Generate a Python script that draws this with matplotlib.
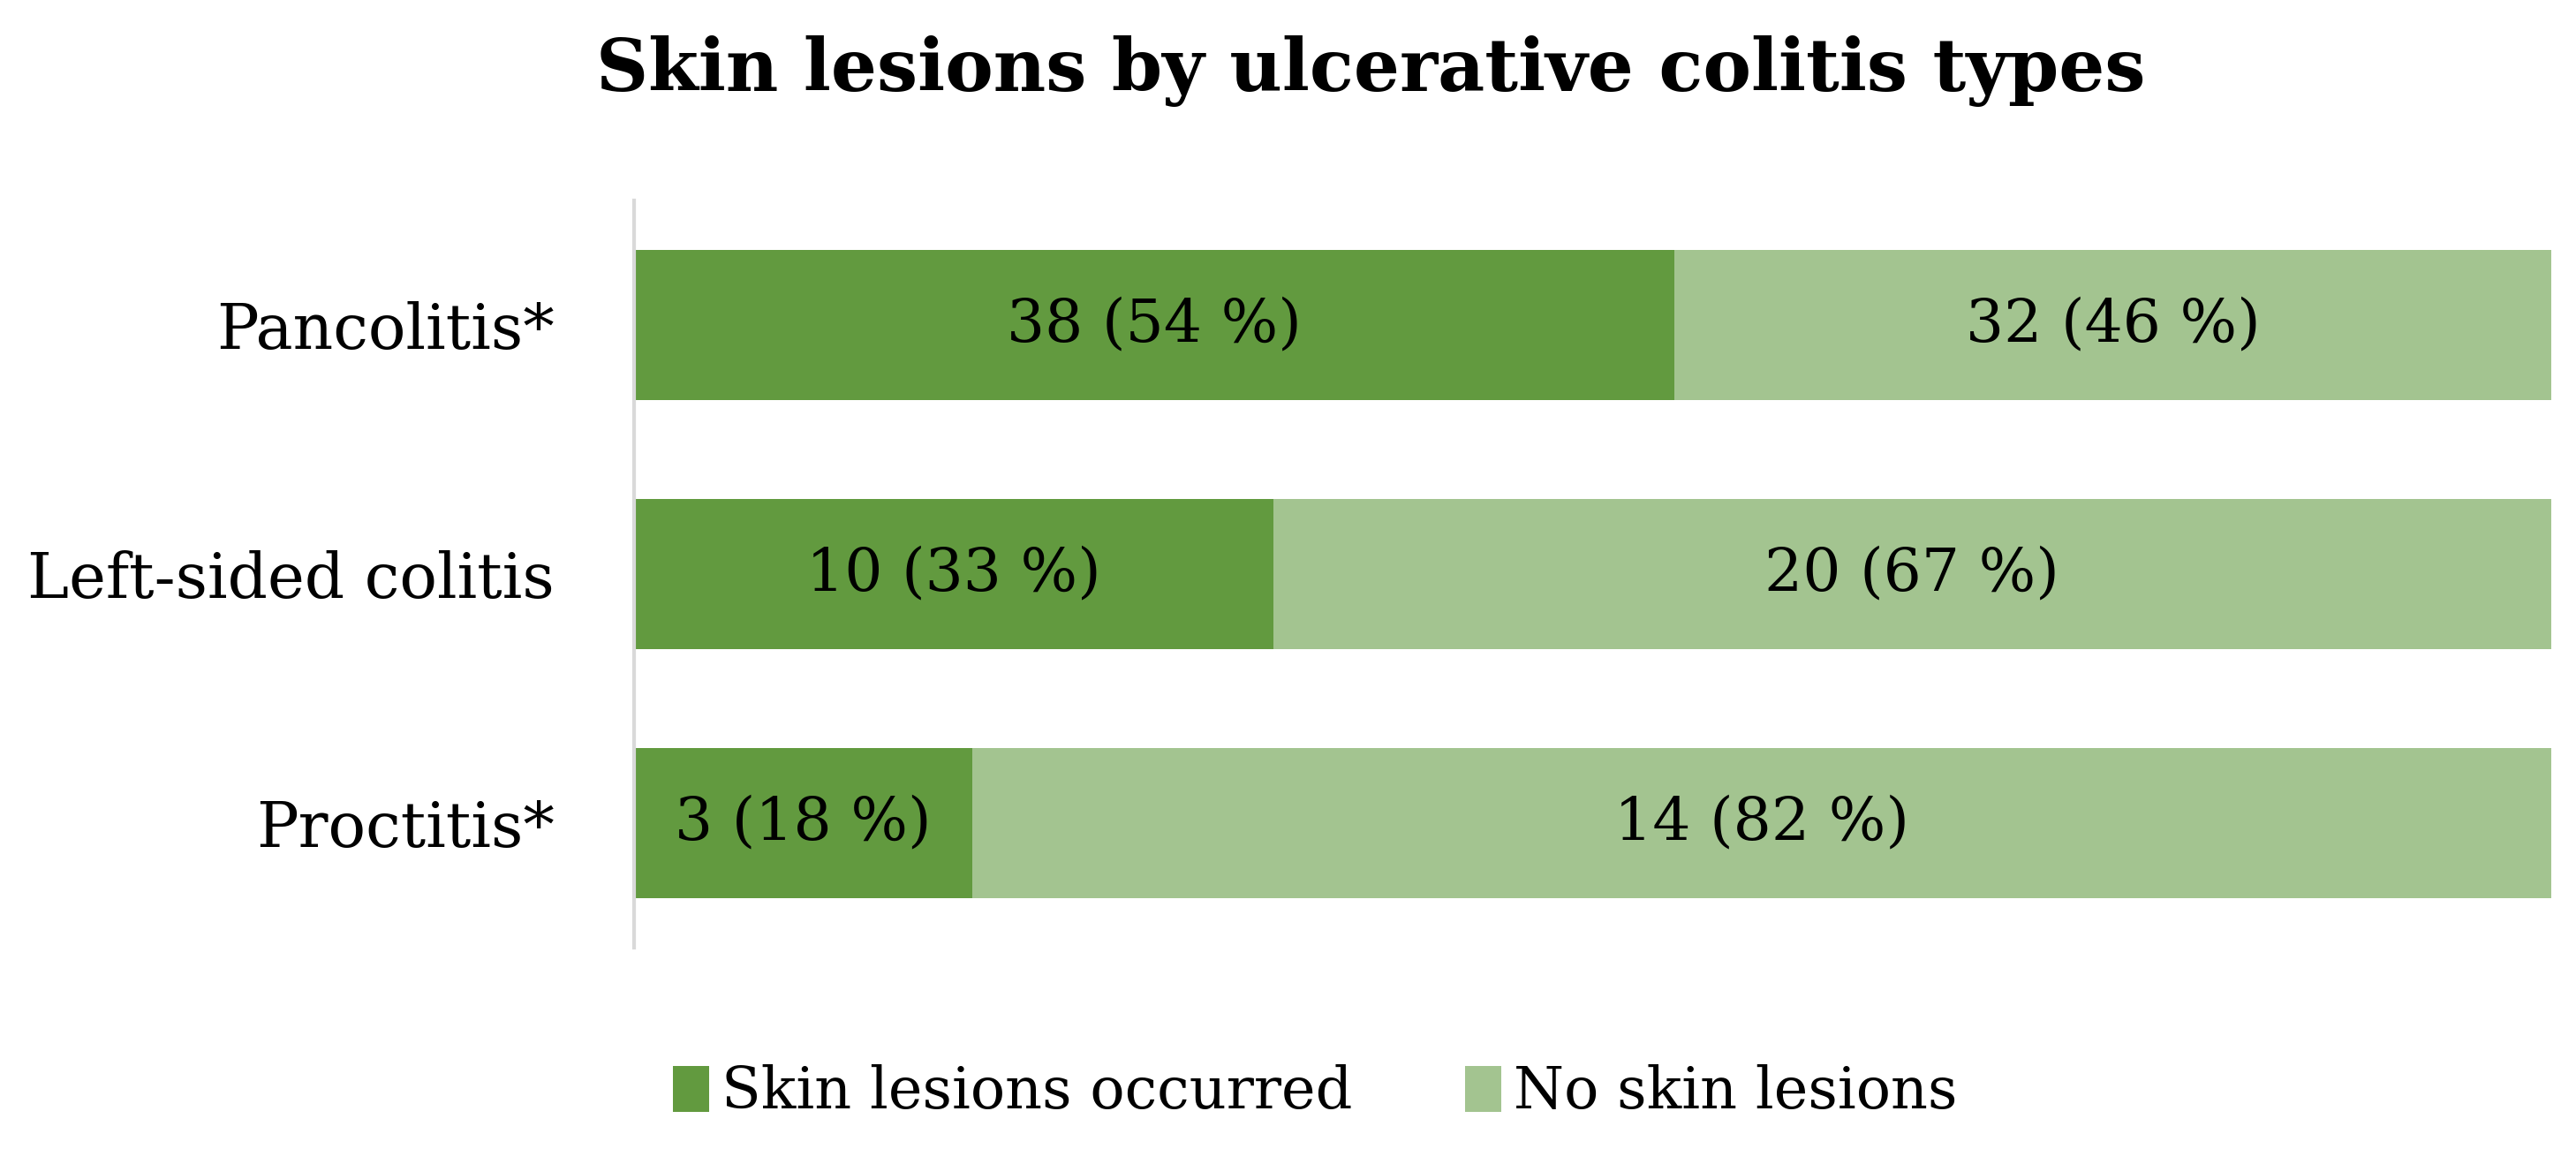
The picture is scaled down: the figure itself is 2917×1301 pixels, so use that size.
import matplotlib
matplotlib.use('Agg')
import matplotlib.pyplot as plt

categories = ['Pancolitis*', 'Left-sided colitis', 'Proctitis*']
lesions = [38, 10, 3]
no_lesions = [32, 20, 14]
title = 'Skin lesions by ulcerative colitis types'
series_names = ['Skin lesions occurred', 'No skin lesions']

dark_green = '#629A3F'
light_green = '#A3C490'

plt.rcParams['font.family'] = ['DejaVu Serif']

fig = plt.figure(figsize=(29.17, 13.01), dpi=100)
ax = fig.add_axes([0.2461, 0.1752, 0.9904 - 0.2461, 0.8255 - 0.1752])

ypos = list(range(len(categories)))
totals = [a + b for a, b in zip(lesions, no_lesions)]
share_yes = [a / t for a, t in zip(lesions, totals)]
share_no = [b / t for b, t in zip(no_lesions, totals)]

ax.barh(ypos, share_yes, height=0.605, color=dark_green, label=series_names[0])
ax.barh(ypos, share_no, left=share_yes, height=0.605, color=light_green, label=series_names[1])

# labels inside the bars
fs_in = 49
for y, a, b, sa, sb in zip(ypos, lesions, no_lesions, share_yes, share_no):
    ax.text(sa / 2, y, f'{a} ({round(sa * 100)} %)', ha='center', va='center', fontsize=fs_in)
    ax.text(sa + sb / 2, y, f'{b} ({round(sb * 100)} %)', ha='center', va='center', fontsize=fs_in)

ax.set_xlim(0, 1)
ax.set_ylim(len(categories) - 0.5, -0.5)
ax.set_yticks(ypos)
ax.set_yticklabels(categories, fontsize=51)
ax.set_xticks([])
ax.tick_params(axis='y', length=0, pad=65)
for side in ['top', 'right', 'bottom']:
    ax.spines[side].set_visible(False)
ax.spines['left'].set_color('#D9D9D9')
ax.spines['left'].set_linewidth(3)

fig.text(0.532, 0.938, title, ha='center', va='center', fontsize=59, fontweight='bold')

fig.legend(loc='center', bbox_to_anchor=(0.5105, 0.049), ncol=2, frameon=False,
           fontsize=47, handlelength=0.63, handleheight=0.85, handletextpad=0.22,
           columnspacing=1.95)

fig.savefig('out.png', dpi=100)
